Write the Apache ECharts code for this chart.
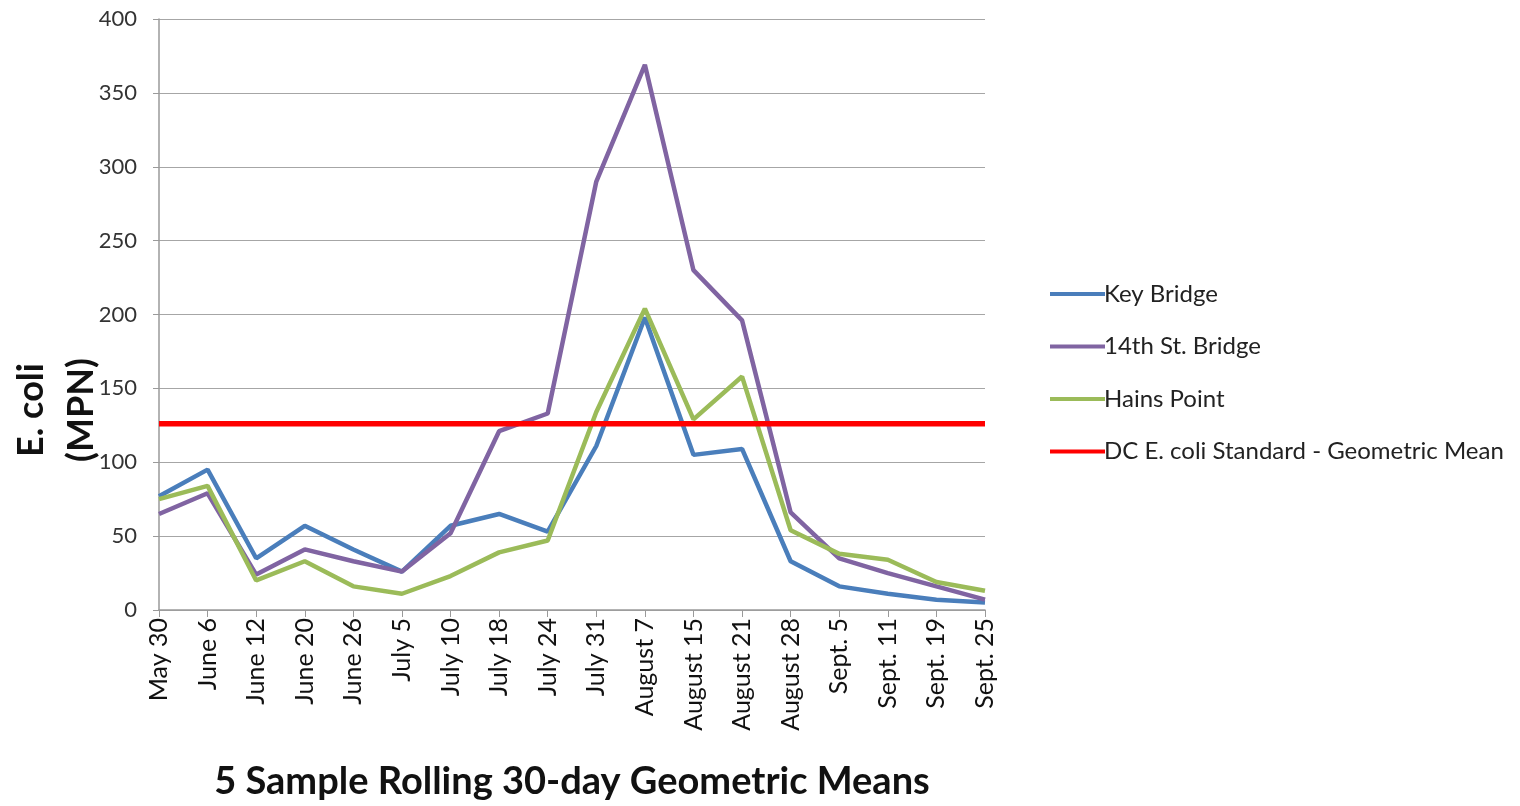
<!DOCTYPE html>
<html><head><meta charset="utf-8">
<script src="https://cdn.jsdelivr.net/npm/echarts@6/dist/echarts.min.js"></script>
<style>html,body{margin:0;padding:0;background:#fff}#c{width:1520px;height:806px}</style>
</head><body><div id="c"></div>
<script>
const categories = ['May 30','June 6','June 12','June 20','June 26','July 5','July 10','July 18','July 24','July 31','August 7','August 15','August 21','August 28','Sept. 5','Sept. 11','Sept. 19','Sept. 25'];
const keyBridge = [77,95,35,57,41,26,57,65,53,111,198,105,109,33,16,11,7,5];
const fourteenthSt = [65,79,24,41,33,26,52,121,133,290,369,230,196,66,35,25,16,7];
const hainsPoint = [75,84,20,33,16,11,23,39,47,134,204,129,158,54,38,34,19,13];
const dcStandard = [126,126,126,126,126,126,126,126,126,126,126,126,126,126,126,126,126,126];
const yTicks = {min:0,max:400,interval:50};
const xTitle = '5 Sample Rolling 30-day Geometric Means';
const yTitle = 'E. coli\n(MPN)';

const font = 'Lato, "Open Sans", sans-serif';
const chart = echarts.init(document.getElementById('c'));
function line(name, data, color, width){
  return {name, type:'line', data, symbol:'none', smooth:false,
    lineStyle:{color, width}, itemStyle:{color}, emphasis:{disabled:true}};
}
chart.setOption({
  animation:false,
  textStyle:{fontFamily:font},
  grid:{left:159, right:535, top:19, bottom:196, containLabel:false, outerBoundsMode:'none'},
  legend:{orient:'vertical', left:1045, top:277, itemGap:28.5, itemWidth:55, itemHeight:4, icon:'rect',
    textStyle:{fontSize:24, color:'#222', fontFamily:font, padding:[0,0,0,-6]},
    data:['Key Bridge','14th St. Bridge','Hains Point','DC E. coli Standard - Geometric Mean']},
  graphic:[{type:'text', x:56, y:410, rotation:Math.PI/2,
    style:{text:yTitle, font:'bold 36px ' + font, fill:'#111', align:'center', verticalAlign:'middle', lineHeight:50}}],
  xAxis:{type:'category', data:categories, boundaryGap:false,
    axisLine:{lineStyle:{color:'#9a9a9a', width:1.5}},
    axisTick:{show:true, alignWithLabel:true, length:7, lineStyle:{color:'#9a9a9a'}},
    axisLabel:{rotate:90, fontSize:25, color:'#111', margin:8, interval:0, fontFamily:font},
    name:xTitle, nameLocation:'middle', nameGap:153,
    nameTextStyle:{fontSize:38, fontWeight:'bold', color:'#111', fontFamily:font}},
  yAxis:{type:'value', min:yTicks.min, max:yTicks.max, interval:yTicks.interval,
    axisLine:{show:true, lineStyle:{color:'#9a9a9a', width:1.5}},
    axisTick:{show:true, length:6, lineStyle:{color:'#9a9a9a'}},
    splitLine:{lineStyle:{color:'#a6a6a6', width:1.2}},
    axisLabel:{fontSize:22, color:'#333', margin:22, fontFamily:font}},
  series:[
    line('Key Bridge', keyBridge, '#4a7ebb', 4.5),
    line('14th St. Bridge', fourteenthSt, '#8064a2', 4.5),
    line('Hains Point', hainsPoint, '#9bbb59', 4.5),
    line('DC E. coli Standard - Geometric Mean', dcStandard, '#ff0000', 5.5)
  ]
});
</script></body></html>
